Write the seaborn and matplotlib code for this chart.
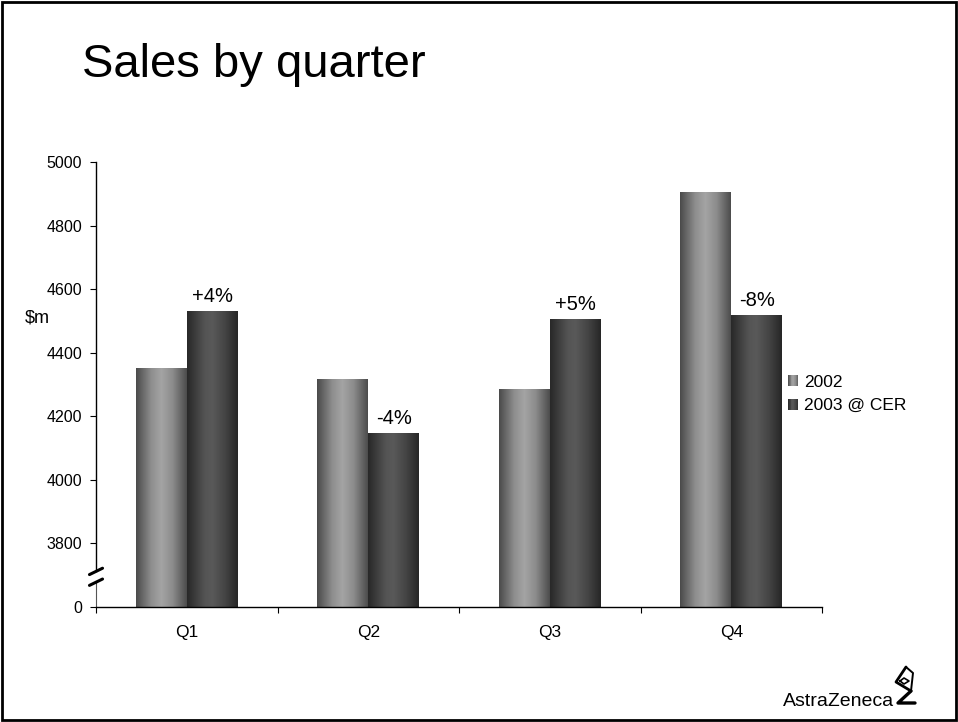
import numpy as np
import pandas as pd
import matplotlib
matplotlib.use("Agg")
import matplotlib.pyplot as plt
import seaborn as sns
from matplotlib.colors import LinearSegmentedColormap
from matplotlib.patches import Rectangle
from matplotlib.lines import Line2D
from matplotlib.legend_handler import HandlerBase

# ---- data ($m) ----
quarters = ["Q1", "Q2", "Q3", "Q4"]
series_names = ["2002", "2003 @ CER"]
sales_2002 = [4349, 4315, 4283, 4904]
sales_2003 = [4530, 4145, 4504, 4517]
growth_labels = ["+4%", "-4%", "+5%", "-8%"]
y_ticks = [3600, 3800, 4000, 4200, 4400, 4600, 4800, 5000]
y_tick_labels = ["0", "3800", "4000", "4200", "4400", "4600", "4800", "5000"]

df = pd.DataFrame({
    "quarter": quarters * 2,
    "sales": sales_2002 + sales_2003,
    "series": [series_names[0]] * len(quarters) + [series_names[1]] * len(quarters),
})

sns.set_theme(style="white")
plt.rcParams["font.family"] = ["Liberation Sans", "DejaVu Sans"]
plt.rcParams["text.color"] = "black"
plt.rcParams["xtick.color"] = "black"
plt.rcParams["ytick.color"] = "black"
plt.rcParams["axes.labelcolor"] = "black"

# cylinder-like shading for each series
cmap_2002 = LinearSegmentedColormap.from_list(
    "s2002", [(0, "#4a4a4a"), (0.3, "#8e8e8e"), (0.5, "#a4a4a4"), (0.72, "#8c8c8c"), (1, "#4c4c4c")])
cmap_2003 = LinearSegmentedColormap.from_list(
    "s2003", [(0, "#282828"), (0.35, "#545454"), (0.5, "#595959"), (0.75, "#444444"), (1, "#262626")])
cmaps = [cmap_2002, cmap_2003]

fig = plt.figure(figsize=(9.58, 7.22), dpi=100)
ax = fig.add_axes([96 / 958, 1 - 607 / 722, (822 - 96) / 958, (607 - 162) / 722])

sns.barplot(data=df, x="quarter", y="sales", hue="series", order=quarters,
            hue_order=series_names, palette=["#8c8c8c", "#444444"],
            width=0.56, saturation=1, ax=ax, legend=False)

grad = np.linspace(0, 1, 256)[np.newaxis, :]
for container, cmap in zip(ax.containers, cmaps):
    for bar in container:
        x0, w, h = bar.get_x(), bar.get_width(), bar.get_height()
        ax.imshow(grad, extent=[x0, x0 + w, 0, h], aspect="auto", cmap=cmap,
                  interpolation="bilinear", zorder=bar.get_zorder())
        bar.set_facecolor("none")
        bar.set_edgecolor("none")

ax.bar_label(ax.containers[1], labels=growth_labels, padding=4, fontsize=14.5, color="black")

ax.set_xlim(-0.5, len(quarters) - 0.5)
ax.set_ylim(y_ticks[0], y_ticks[-1])
ax.set_yticks(y_ticks)
ax.set_yticklabels(y_tick_labels, fontsize=11.5)
ax.set_xticks(range(len(quarters)))
ax.set_xticklabels(quarters, fontsize=12.5)
ax.set_xticks(np.arange(-0.5, len(quarters)), minor=True)
ax.tick_params(axis="x", which="major", length=0, pad=13)
ax.tick_params(axis="x", which="minor", length=4, width=0.8, direction="out", color="black", bottom=True)
ax.tick_params(axis="y", which="major", length=4, width=0.8, direction="out", color="black", left=True, pad=6)
ax.set_xlabel("")
ax.set_ylabel("")

for side in ["top", "right"]:
    ax.spines[side].set_visible(False)
for side in ["left", "bottom"]:
    ax.spines[side].set_color("black")
    ax.spines[side].set_linewidth(1)

# broken value axis between 0 and 3800
ax.spines["left"].set_bounds(3712, 5000)
ytrans = ax.get_yaxis_transform()
ax.add_line(Line2D([0, 0], [3600, 3678], transform=ytrans, color="#555555", lw=0.8, clip_on=False))
for yb in (3712, 3678):
    ax.add_line(Line2D([-0.009, 0.009], [yb - 10, yb + 10], transform=ytrans,
                       color="black", lw=2.2, clip_on=False))

ax.set_facecolor("white")


class GradientHandler(HandlerBase):
    def __init__(self, cmap):
        super().__init__()
        self.cmap = cmap

    def create_artists(self, legend, orig_handle, xdescent, ydescent, width, height, fontsize, trans):
        n = 12
        artists = []
        for i in range(n):
            r = Rectangle((-xdescent + width * i / n, -ydescent), width / n + 0.05, height,
                          facecolor=self.cmap((i + 0.5) / n), edgecolor="none", transform=trans)
            artists.append(r)
        return artists


handles = [Rectangle((0, 0), 1, 1), Rectangle((0, 0), 1, 1)]
fig.legend(handles, series_names, loc="center left", bbox_to_anchor=(788 / 958, 1 - 394 / 722),
           frameon=False, fontsize=12.5, handlelength=0.6, handleheight=0.6, handletextpad=0.35,
           labelspacing=0.5, borderpad=0, borderaxespad=0,
           handler_map={handles[0]: GradientHandler(cmap_2002), handles[1]: GradientHandler(cmap_2003)})

fig.text(25 / 958, 1 - 318 / 722, "$m", fontsize=13, va="center", ha="left")
fig.text(82 / 958, 1 - 77 / 722, "Sales by quarter", fontsize=34, va="baseline", ha="left")

# corporate mark
fig.text(783 / 958, 1 - 706 / 722, "AstraZeneca", fontsize=14, va="baseline", ha="left")
mark_paths = [
    ([(906, 667), (896, 682), (911, 691)], 2.0),
    ([(906, 667), (913, 673), (911, 691)], 1.4),
    ([(900, 681), (904, 678), (909, 681), (904, 684), (900, 681)], 1.2),
    ([(911, 691), (898, 703), (915, 703)], 2.4),
]
for path, lw in mark_paths:
    xs = [p[0] / 958 for p in path]
    ys = [1 - p[1] / 722 for p in path]
    fig.add_artist(Line2D(xs, ys, transform=fig.transFigure, color="black", lw=lw,
                          solid_capstyle="round", solid_joinstyle="round"))

# slide frame
fig.add_artist(Rectangle((2 / 958, 2 / 722), 954 / 958, 718 / 722, transform=fig.transFigure,
                         fill=False, edgecolor="black", lw=2))

fig.savefig("out.png", dpi=100, facecolor="white")
